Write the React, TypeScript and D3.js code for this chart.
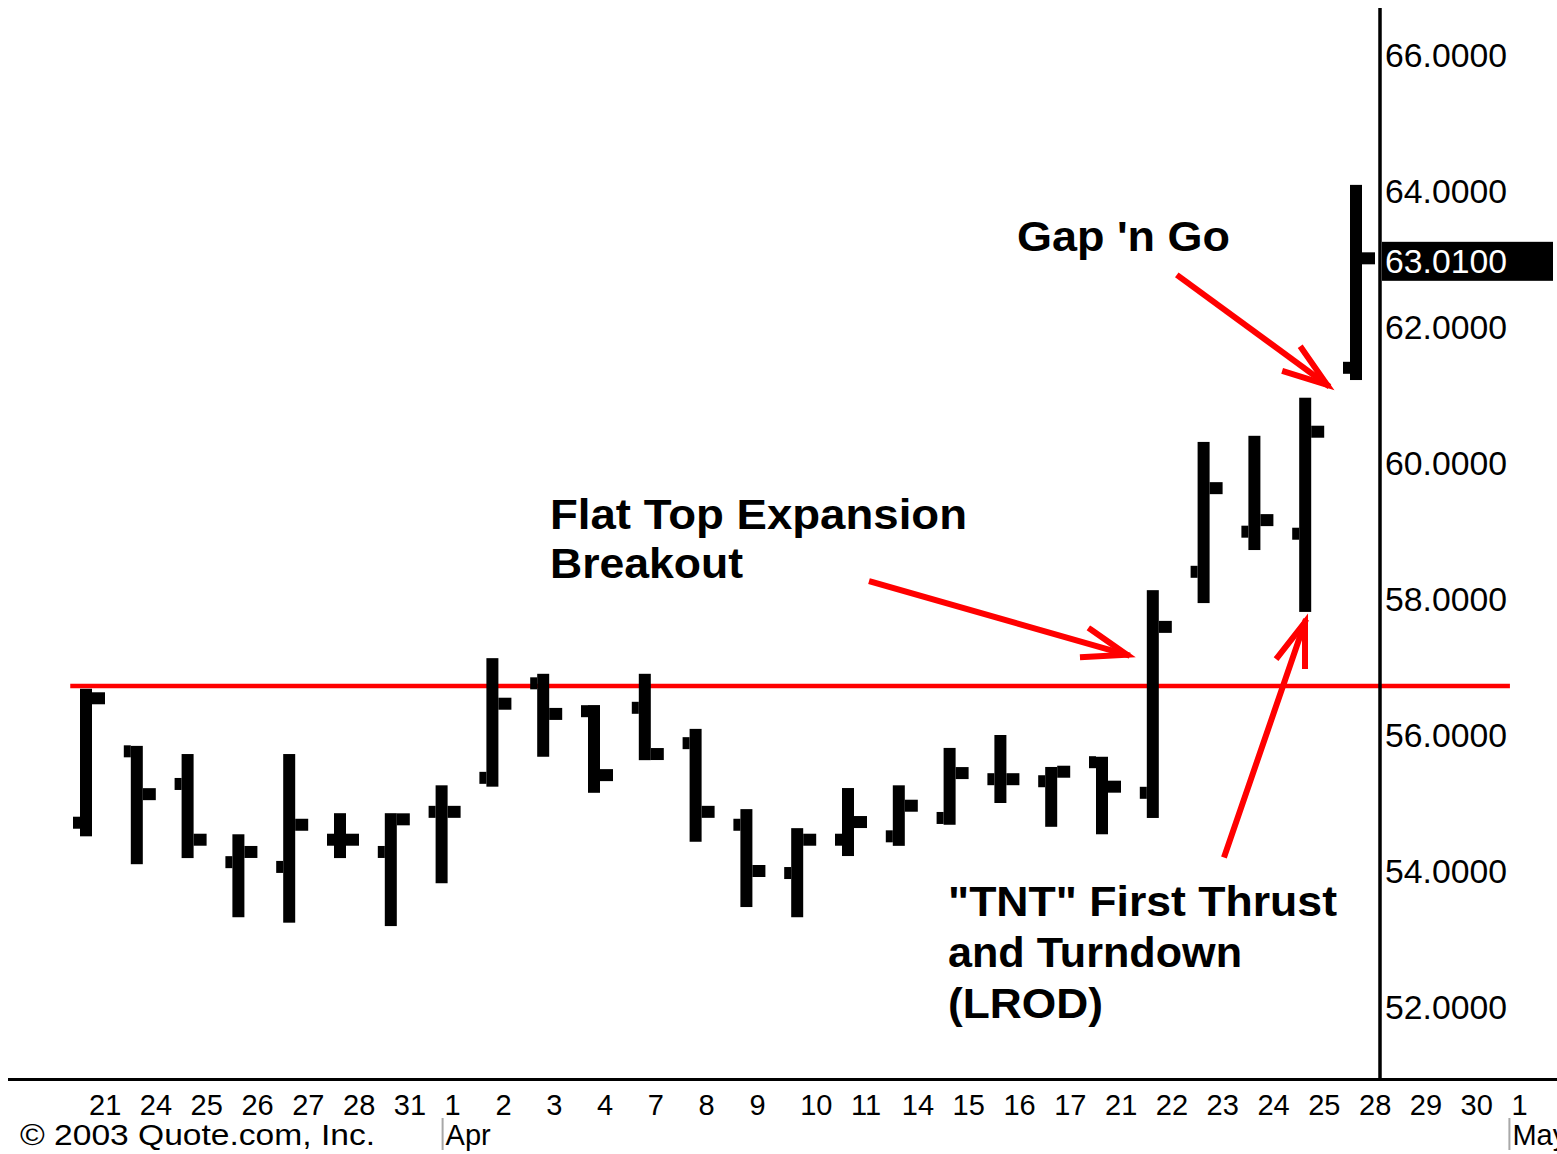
import React from "react";
import * as d3 from "d3";

// ---- data ----
const dates = ["21","24","25","26","27","28","31","1","2","3","4","7","8","9","10","11","14","15","16","17","21","22","23","24","25","28","29","30","1"];
const monthLabels = ["Apr", "May"];
const monthStartIdx = [7, 28];
const opens  = [54.71,55.76,55.28,54.13,54.06,54.46,54.28,54.87,55.37,56.76,56.35,56.40,55.88,54.68,53.97,54.46,54.51,54.78,55.35,55.32,55.60,55.15,58.40,58.99,58.96,61.40];
const highs  = [56.68,55.84,55.72,54.54,55.72,54.85,54.85,55.26,57.13,56.90,56.44,56.90,56.09,54.91,54.63,55.22,55.26,55.81,56.00,55.53,55.68,58.13,60.31,60.40,60.96,64.09];
const lows   = [54.51,54.10,54.19,53.32,53.24,54.19,53.19,53.82,55.24,55.68,55.15,55.63,54.43,53.47,53.32,54.22,54.37,54.68,55.00,54.65,54.54,54.78,57.94,58.72,57.81,61.22];
const closes = [56.54,55.13,54.46,54.28,54.68,54.46,54.76,54.87,56.46,56.31,55.41,55.72,54.87,54.00,54.46,54.72,54.96,55.44,55.35,55.46,55.24,57.59,59.63,59.16,60.46,63.01];
const yTicks = [52, 54, 56, 58, 60, 62, 64, 66];
const lastPrice = 63.01;
const flatTopLevel = 56.72;
const flatTopSpan = [-0.31, 28.03];
const gapNote = ["Gap 'n Go"];
const flatNote = ["Flat Top Expansion", "Breakout"];
const tntNote = ['"TNT" First Thrust', "and Turndown", "(LROD)"];
const copyright = "\u00A9 2003 Quote.com, Inc.";
// arrows: [fromIdx, fromPrice, toIdx, toPrice]
const arrowGap  = [21.52, 62.74, 24.43, 61.15];
const arrowFlat = [15.47, 58.25, 20.49, 57.18];
const arrowTnt  = [22.42, 54.24, 23.996, 57.66];

const W = 1557, H = 1154;
const x = d3.scaleLinear().domain([0, 28]).range([86, 1508.4]);
const y = d3.scaleLinear().domain([52, 66]).range([1007, 55]);
const fmt = d3.format(".4f");

const LABEL_FONT = "'Liberation Sans', Arial, sans-serif";

function Arrow({ a }: { a: number[] }) {
  const x1 = x(a[0]), y1 = y(a[1]), x2 = x(a[2]), y2 = y(a[3]);
  const ang = Math.atan2(y1 - y2, x1 - x2);
  const len = 44, spread = (19 * Math.PI) / 180;
  const w1: [number, number] = [x2 + len * Math.cos(ang + spread), y2 + len * Math.sin(ang + spread)];
  const w2: [number, number] = [x2 + len * Math.cos(ang - spread), y2 + len * Math.sin(ang - spread)];
  const line = d3.line();
  return (
    <g stroke="#ff0000" strokeWidth={6} fill="none" strokeLinecap="square">
      <path d={line([[x1, y1], [x2, y2]]) || ""} />
      <path d={line([w1, [x2, y2], w2]) || ""} strokeLinejoin="miter" />
    </g>
  );
}

function Note({ lines, left, baseline, step, lengths }: { lines: string[]; left: number; baseline: number; step: number; lengths: number[] }) {
  return (
    <g fontFamily={LABEL_FONT} fontWeight="bold" fontSize={42} fill="#000">
      {lines.map((t, i) => (
        <text key={i} x={left} y={baseline + i * step} textLength={lengths[i]} lengthAdjust="spacingAndGlyphs">{t}</text>
      ))}
    </g>
  );
}

export default function App() {
  const bars = opens.map((o, i) => ({ i, o, h: highs[i], l: lows[i], c: closes[i] }));
  const axisX = 1380;
  const axisY = 1079.5;
  return (
    <svg width={W} height={H} viewBox={`0 0 ${W} ${H}`} style={{ position: "fixed", left: 0, top: 0, background: "#fff" }}>
      <rect x={0} y={0} width={W} height={H} fill="#fff" />
      {/* flat top line */}
      <line x1={x(flatTopSpan[0])} x2={x(flatTopSpan[1])} y1={y(flatTopLevel)} y2={y(flatTopLevel)} stroke="#ff0000" strokeWidth={4.5} />
      {/* OHLC bars */}
      <g fill="#000">
        {bars.map((b) => {
          const cx = x(b.i);
          return (
            <g key={b.i}>
              <rect x={cx - 6} y={y(b.h)} width={12} height={y(b.l) - y(b.h)} />
              <rect x={cx - 13} y={y(b.o) - 6} width={7} height={12} />
              <rect x={cx + 6} y={y(b.c) - 6} width={13} height={12} />
            </g>
          );
        })}
      </g>
      {/* axes */}
      <line x1={axisX} x2={axisX} y1={8} y2={axisY} stroke="#000" strokeWidth={3.5} />
      <line x1={8} x2={W} y1={axisY} y2={axisY} stroke="#000" strokeWidth={3} />
      {/* y labels */}
      <g fontFamily={LABEL_FONT} fontSize={33} fill="#000">
        {yTicks.map((v) => (
          <text key={v} x={axisX + 5} y={y(v) + 12} textLength={122} lengthAdjust="spacingAndGlyphs">{fmt(v)}</text>
        ))}
      </g>
      {/* last price box */}
      <rect x={axisX + 2} y={y(lastPrice) + 3 - 19.5} width={171} height={39} fill="#000" />
      <text x={axisX + 5} y={y(lastPrice) + 3 + 12} fontFamily={LABEL_FONT} fontSize={33} fill="#fff" textLength={122} lengthAdjust="spacingAndGlyphs">{fmt(lastPrice)}</text>
      {/* x labels */}
      <g fontFamily={LABEL_FONT} fontSize={29} fill="#000">
        {dates.map((d, i) => (
          <text key={i} x={x(i) + 3} y={1115}>{d}</text>
        ))}
        {monthLabels.map((m, k) => (
          <g key={m}>
            <line x1={x(monthStartIdx[k]) + 1} x2={x(monthStartIdx[k]) + 1} y1={1118} y2={1150} stroke="#a8a8a8" strokeWidth={2} />
            <text x={x(monthStartIdx[k]) + 4} y={1145}>{m}</text>
          </g>
        ))}
        <text x={20} y={1145} textLength={355} lengthAdjust="spacingAndGlyphs">{copyright}</text>
      </g>
      {/* annotations */}
      <Note lines={gapNote} left={1017} baseline={251} step={0} lengths={[213]} />
      <Note lines={flatNote} left={550} baseline={529} step={49} lengths={[417, 193]} />
      <Note lines={tntNote} left={948} baseline={916} step={51} lengths={[389, 294, 155]} />
      <Arrow a={arrowGap} />
      <Arrow a={arrowFlat} />
      <Arrow a={arrowTnt} />
    </svg>
  );
}
